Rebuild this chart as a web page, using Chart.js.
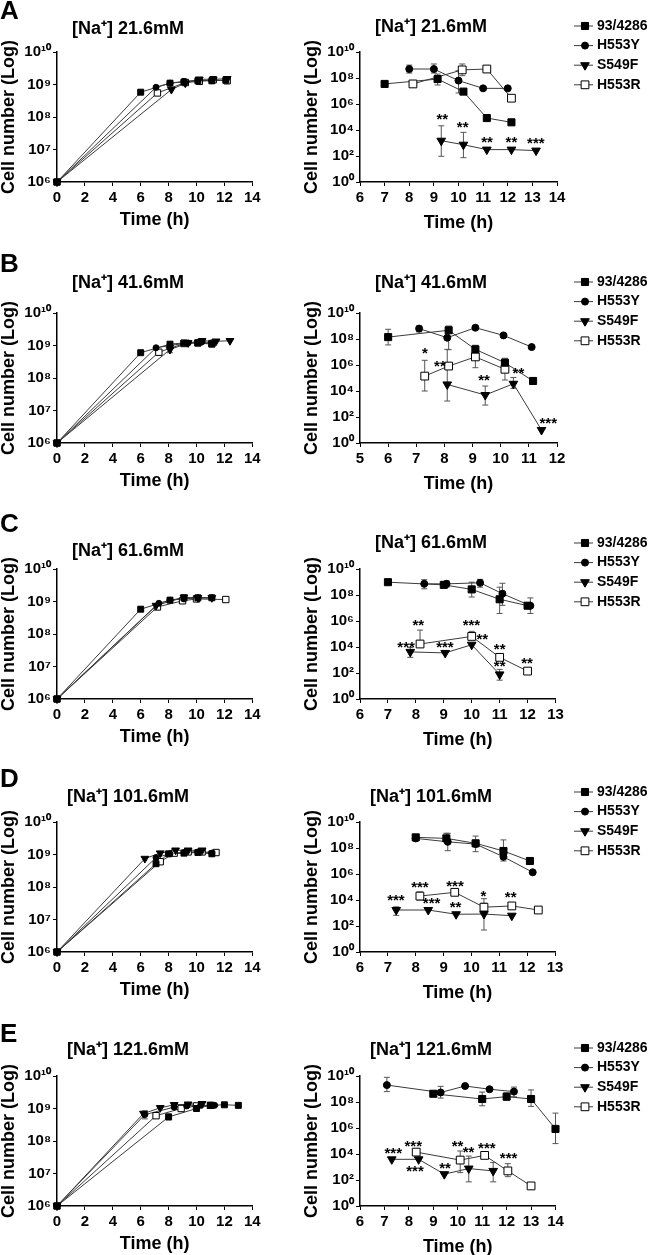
<!DOCTYPE html>
<html><head><meta charset="utf-8">
<script src="https://cdn.jsdelivr.net/npm/chart.js@4.4.1/dist/chart.umd.min.js"></script>
<style>
html,body{margin:0;padding:0;background:#fff;width:650px;height:1255px;overflow:hidden;position:relative;}
canvas{position:absolute;}
</style></head><body>
<script>
// ================= DATA =================
const SERIES_NAMES = ['93/4286', 'H553Y', 'S549F', 'H553R'];
const PANEL_LETTERS = ['A', 'B', 'C', 'D', 'E'];
const NA_TITLES = ['[Na⁺] 21.6mM', '[Na⁺] 41.6mM', '[Na⁺] 61.6mM', '[Na⁺] 101.6mM', '[Na⁺] 121.6mM'];
const X_TITLE = 'Time (h)';
const Y_TITLE = 'Cell number (Log)';
const GROWTH_X_RANGE = [0, 14];
const GROWTH_X_STEP = 2;
const SURV_X_RANGES = [[6, 14], [5, 12], [6, 13], [6, 13], [6, 14]];
const SURV_X_STEP = 1;
const GROWTH_Y_TICKS = [1e6, 1e7, 1e8, 1e9, 1e10];
const GROWTH_Y_LABELS = ['10⁶', '10⁷', '10⁸', '10⁹', '10¹⁰'];
const SURV_Y_TICKS = [1, 1e2, 1e4, 1e6, 1e8, 1e10];
const SURV_Y_LABELS = ['10⁰', '10²', '10⁴', '10⁶', '10⁸', '10¹⁰'];

// ---- growth curves (left column): [time h, cells] ----
const growthA_WT    = [[0,1e6],[6,5.8e8],[8.1,1.1e9],[9.1,1.2e9],[10.1,1.3e9],[11.1,1.3e9],[12.1,1.35e9]];
const growthA_H553Y = [[0,1e6],[7.1,8.2e8],[8.1,1.1e9],[9.1,1.25e9],[10.1,1.35e9],[11.1,1.3e9]];
const growthA_S549F = [[0,1e6],[8.2,7e8],[9.2,1.1e9],[10.2,1.45e9],[11.2,1.45e9],[12.2,1.5e9]];
const growthA_H553R = [[0,1e6],[7.2,5.5e8],[9.2,1.15e9],[10.2,1.25e9],[11.2,1.4e9],[12.2,1.3e9]];

const growthB_WT    = [[0,1e6],[6,6e8],[8.1,1.1e9],[9.1,1.2e9],[10.1,1.2e9],[11.1,1.1e9]];
const growthB_H553Y = [[0,1e6],[7.1,8.5e8],[8.1,1.0e9],[9.4,1.2e9],[10.4,1.3e9],[11.1,1.2e9]];
const growthB_S549F = [[0,1e6],[8.1,7.5e8],[9.4,1.2e9],[10.4,1.4e9],[11.4,1.35e9],[12.4,1.4e9]];
const growthB_H553R = [[0,1e6],[7.3,6.2e8],[9.1,1.15e9],[10.1,1.2e9],[11.1,1.15e9]];

const growthC_WT    = [[0,1e6],[6,5.8e8],[8.1,1.1e9],[9.1,1.3e9],[10.1,1.3e9],[11.1,1.3e9]];
const growthC_H553Y = [[0,1e6],[7.3,8.8e8],[8.1,1.1e9],[9.1,1.2e9],[10.1,1.3e9],[11.1,1.3e9]];
const growthC_S549F = [[0,1e6],[7.1,7.5e8],[9.1,1.35e9],[10.1,1.3e9],[11.1,1.3e9]];
const growthC_H553R = [[0,1e6],[7.2,6.8e8],[9,1.05e9],[10,1.2e9],[12.1,1.15e9]];

const growthD_WT    = [[0,1e6],[7.1,5.2e8],[8,1.05e9],[9.1,1.1e9],[10.1,1.15e9],[11.1,1.05e9]];
const growthD_H553Y = [[0,1e6],[7.1,8e8],[8.1,1.05e9],[9.1,1.15e9],[10.1,1.2e9],[11.1,1.1e9]];
const growthD_S549F = [[0,1e6],[6.3,7.5e8],[7.4,1.1e9],[8.5,1.35e9],[9.4,1.35e9],[10.4,1.35e9]];
const growthD_H553R = [[0,1e6],[7.4,6e8],[8.4,1.1e9],[9.4,1.2e9],[10.4,1.2e9],[11.4,1.15e9]];

const growthE_WT    = [[0,1e6],[8,5.5e8],[10,1.0e9],[11,1.25e9],[12,1.3e9],[13,1.25e9]];
const growthE_H553Y = [[0,1e6],[6.3,6.5e8],[8.4,1.1e9],[9.3,1.2e9],[10.3,1.25e9],[11.3,1.25e9]];
const growthE_S549F = [[0,1e6],[6.2,7e8],[7.4,1.05e9],[8.4,1.3e9],[9.4,1.35e9],[10.4,1.4e9]];
const growthE_H553R = [[0,1e6],[7.1,6e8],[8.9,1.0e9],[10,1.2e9],[11,1.25e9]];

// growth error bars: [time, low, high]
const growthErrE_WT    = [[8,4.5e8,6.8e8]];
const growthErrE_H553Y = [[6.3,4.8e8,8.5e8]];
const growthErrB_S549F = [[8.1,6e8,9e8]];

// ---- survival curves (right column): [time h, cells] ----
const survA_WT    = [[7.0,3.5e7],[9.15,8.3e7],[10.2,9e6],[11.15,8.3e4],[12.15,3.9e4]];
const survA_H553Y = [[8.0,4.9e8],[9.0,4.9e8],[10.0,6.3e7],[11.0,1.6e7],[12.0,1.6e7]];
const survA_S549F = [[9.3,1.5e3],[10.2,7.4e2],[11.15,3.1e2],[12.15,3.1e2],[13.15,2.6e2]];
const survA_H553R = [[8.15,3.5e7],[10.15,4.2e8],[11.15,4.9e8],[12.15,2.8e6]];
const errA_WT    = [[9.15,2.9e7,2e8]];
const errA_H553Y = [[8.0,2.4e8,9.8e8],[9.0,2.4e8,1.2e9],[10.0,7e6,3.6e8]];
const errA_S549F = [[9.3,95,2.1e4],[10.2,74,6.6e3]];
const errA_H553R = [[10.15,1.5e8,1.2e9]];
const starsA = [[9.34,1e5,'**'],[10.17,2.4e4,'**'],[11.16,1.8e3,'**'],[12.15,1.8e3,'**'],[13.14,1.5e3,'***']];

const survB_WT    = [[6.0,1.4e8],[8.15,4.7e8],[9.1,1.6e7],[10.15,1.5e6],[11.15,5.9e4]];
const survB_H553Y = [[7.1,6.3e8],[8.1,1.26e8],[9.1,7.4e8],[10.1,1.9e8],[11.1,2.4e7]];
const survB_S549F = [[8.1,3.2e4],[9.45,4.9e3],[10.45,3.6e4],[11.45,10]];
const survB_H553R = [[7.3,1.4e5],[8.15,8.3e5],[9.1,4.2e6],[10.15,4.7e5]];
const errB_WT    = [[6.0,3.5e7,5.6e8],[8.15,1.5e7,1e9],[9.1,9e6,3.3e7],[10.15,6.2e5,3.3e6]];
const errB_H553Y = [[7.1,3.5e8,1e9]];
const errB_S549F = [[8.1,1.7e3,1.6e7],[9.45,8.3e2,2.4e4],[10.45,1.6e4,1.1e5]];
const errB_H553R = [[7.3,1e4,2.3e6],[9.1,6.2e5,1.2e7],[10.15,7e4,2.8e6]];
const starsB = [[7.31,1.2e7,'*'],[7.84,1.3e6,'**'],[9.41,9.5e4,'**'],[10.63,3.5e5,'**'],[11.69,49,'***']];

const survC_WT    = [[7.0,9.7e8],[9.0,6e8],[10.0,2.7e8],[11.0,4.7e7],[12.0,1.5e7]];
const survC_H553Y = [[8.3,7.2e8],[9.1,7.2e8],[10.3,8.7e8],[11.1,1.26e8],[12.1,1.5e7]];
const survC_S549F = [[7.8,4.2e3],[9.05,3.5e3],[10.0,1.5e4],[11.0,78]];
const survC_H553R = [[8.15,1.7e4],[10.0,6.5e4],[11.0,1.6e3],[12.0,1.4e2]];
const errC_WT    = [[10.0,7e7,9.7e8],[11.0,3.8e6,4e8]];
const errC_H553Y = [[8.3,3e8,1.5e9],[9.1,4e8,1.2e9],[10.3,4e8,1.6e9],[11.1,1.6e7,8e8],[12.1,3.8e6,6e7]];
const errC_S549F = [[7.8,1.6e3,9.3e3],[11.0,28,190]];
const errC_H553R = [[8.15,1.7e4,2e5],[10.0,6.5e4,1.6e5],[11.0,1.6e3,3e3]];
const starsC = [[8.09,6.6e5,'**'],[7.65,1.5e4,'***'],[9.04,1.5e4,'***'],[9.99,6.6e5,'***'],[10.38,6.5e4,'**'],[11.0,1e4,'**'],[11.0,5.4e2,'**'],[11.98,8.1e2,'**']];

const survD_WT    = [[8.0,6.6e8],[9.1,5.5e8],[10.15,2.3e8],[11.15,5.9e7],[12.1,1e7]];
const survD_H553Y = [[8.0,5.5e8],[9.15,3e8],[10.15,2e8],[11.15,2.1e7],[12.2,1.35e6]];
const survD_S549F = [[7.3,1.7e3],[8.45,1.7e3],[9.45,8e2],[10.45,8.3e2],[11.45,6.2e2]];
const survD_H553R = [[8.15,2e4],[9.4,3.9e4],[10.45,2.8e3],[11.45,3.5e3],[12.4,1.7e3]];
const errD_WT    = [[9.1,5.5e8,1.35e9],[10.15,5.2e7,8.3e8],[11.15,5.9e7,4.2e8],[12.1,5.5e6,1.8e7]];
const errD_H553Y = [[9.15,6.2e7,1.35e9],[11.15,1e7,4e7]];
const errD_S549F = [[7.3,6.6e2,3e3],[10.45,49,5.6e3]];
const errD_H553R = [[8.15,1e4,4.2e4],[10.45,2.8e3,1.26e4]];
const starsD = [[7.29,1.35e4,'***'],[8.15,1.4e5,'***'],[8.57,8.9e3,'***'],[9.41,1.6e5,'***'],[9.43,4.2e3,'**'],[10.43,2.9e4,'*'],[11.41,2.4e4,'**']];

const survE_WT    = [[9.0,4.3e8],[11.0,1.7e8],[12.0,2.6e8],[13.0,1.7e8],[14.0,8.5e5]];
const survE_H553Y = [[7.1,2e9],[9.3,5.4e8],[10.3,1.7e9],[11.3,9.6e8],[12.3,6.3e8]];
const survE_S549F = [[7.3,3.9e3],[8.4,3.9e3],[9.45,2.8e2],[10.45,7.6e2],[11.45,5e2]];
const survE_H553R = [[8.3,1.4e4],[10.1,3.4e3],[11.1,7.8e3],[12.05,5e2],[13.0,35]];
const errE_WT    = [[11.0,5.1e7,5.8e8],[12.0,1.3e8,5e8],[13.0,4.6e7,8.5e8],[14.0,6.3e4,1.4e7]];
const errE_H553Y = [[7.1,6.3e8,7.9e9],[9.3,2e8,1.6e9],[12.3,2.5e8,1.4e9]];
const errE_S549F = [[10.45,72,6.9e3],[11.45,72,2.2e3]];
const errE_H553R = [[10.1,3.7e2,1.7e4],[12.05,1.8e2,1.8e3]];
const starsE = [[7.36,1.7e4,'***'],[8.18,6.5e4,'***'],[8.25,7.6e2,'***'],[9.48,1.2e3,'**'],[9.99,6.5e4,'**'],[10.44,2.2e4,'**'],[11.19,4.6e4,'***'],[12.08,6.9e3,'***']];

// ================= LAYOUT / STYLE =================
const FONT = "'Liberation Sans', Arial, Helvetica, sans-serif";
Chart.defaults.font.family = FONT;
Chart.defaults.color = '#000';
const LINE_COLOR = '#3a3a3a';
const ERR_COLOR = '#555';
const CAP = 3;
const ROW_TOP = [52, 313, 569, 822, 1076];
const LETTER_Y = [12, 265, 525, 780, 1035];
const LEFT_TITLE_Y = [29, 283, 551, 797, 1050];
const RIGHT_TITLE_Y = [27, 283, 543, 797, 1050];
const LEGEND_Y0 = [26, 282, 543, 792, 1048];
const RIGHT_CHART_RIGHT = [557, 557, 555.5, 555, 555.5];
const LEGEND_STEP = 19.6;
const MARKERS = [
  {style: 'rect', fill: '#000'},
  {style: 'circle', fill: '#000'},
  {style: 'tri', fill: '#000'},
  {style: 'rect', fill: '#fff'}
];
const LEFT_RADII = [4.2, 3, 4.5, 4.5];
const RIGHT_RADII = [5, 3.5, 5, 5.5];

function drawMarker(ctx, m, r, x, y) {
  ctx.save();
  ctx.fillStyle = m.fill; ctx.strokeStyle = '#000'; ctx.lineWidth = 1;
  ctx.beginPath();
  if (m.style === 'rect') { const h = r * Math.SQRT1_2; ctx.rect(x - h, y - h, 2 * h, 2 * h); }
  else if (m.style === 'circle') { ctx.arc(x, y, r, 0, Math.PI * 2); }
  else { ctx.moveTo(x, y + r); ctx.lineTo(x - r * 0.866, y - r / 2); ctx.lineTo(x + r * 0.866, y - r / 2); ctx.closePath(); }
  ctx.fill(); ctx.stroke();
  ctx.restore();
}

function decor(cfg) {
  return {
    id: 'decor',
    beforeDatasetsDraw(chart) {
      const ctx = chart.ctx, xs = chart.scales.x, ys = chart.scales.y;
      ctx.save(); ctx.strokeStyle = ERR_COLOR; ctx.lineWidth = 1;
      cfg.errors.forEach(list => list.forEach(([x, lo, hi]) => {
        const px = xs.getPixelForValue(x), a = ys.getPixelForValue(lo), b = ys.getPixelForValue(hi);
        ctx.beginPath();
        ctx.moveTo(px, a); ctx.lineTo(px, b);
        ctx.moveTo(px - CAP, a); ctx.lineTo(px + CAP, a);
        ctx.moveTo(px - CAP, b); ctx.lineTo(px + CAP, b);
        ctx.stroke();
      }));
      ctx.restore();
    },
    afterDraw(chart) {
      const ctx = chart.ctx, xs = chart.scales.x, ys = chart.scales.y;
      ctx.save();
      ctx.fillStyle = '#000';
      ctx.textBaseline = 'middle';
      ctx.font = 'bold 18px ' + FONT; ctx.textAlign = 'center';
      ctx.fillText(cfg.title, cfg.titleX, cfg.titleY);
      if (cfg.letter) {
        ctx.font = 'bold 26px ' + FONT; ctx.textAlign = 'left';
        ctx.fillText(cfg.letter, 0, cfg.letterY);
      }
      if (cfg.legendY != null) {
        ctx.font = 'bold 14px ' + FONT; ctx.textAlign = 'left';
        SERIES_NAMES.forEach((name, i) => {
          const y = cfg.legendY + i * LEGEND_STEP;
          ctx.strokeStyle = LINE_COLOR; ctx.lineWidth = 1;
          ctx.beginPath(); ctx.moveTo(271, y); ctx.lineTo(290, y); ctx.stroke();
          drawMarker(ctx, MARKERS[i], RIGHT_RADII[i], 282, y);
          ctx.fillStyle = '#000';
          ctx.fillText(name, 294, y);
        });
      }
      ctx.font = 'bold 15px ' + FONT; ctx.textAlign = 'center'; ctx.fillStyle = '#000';
      cfg.stars.forEach(([x, v, t]) => ctx.fillText(t, xs.getPixelForValue(x), ys.getPixelForValue(v) + 3));
      ctx.restore();
    },
    afterDatasetsDraw(chart) {
      const ctx = chart.ctx, xs = chart.scales.x, ys = chart.scales.y;
      for (let i = cfg.series.length - 1; i >= 0; i--) {
        cfg.series[i].forEach(([x, v]) => drawMarker(ctx, MARKERS[i], cfg.radii[i], xs.getPixelForValue(x), ys.getPixelForValue(v)));
      }
    }
  };
}

function makeCanvas(left, top, w, h) {
  const c = document.createElement('canvas');
  c.width = w; c.height = h;
  c.style.left = left + 'px'; c.style.top = top + 'px';
  c.style.width = w + 'px'; c.style.height = h + 'px';
  document.body.appendChild(c);
  return c;
}

const gridOpts = {display: true, drawOnChartArea: false, drawTicks: true, tickLength: 4, color: '#000', tickColor: '#000', tickWidth: 1};
const borderOpts = {display: true, color: '#000', width: 1.5};
const titleFont = {size: 18, weight: 'bold', lineHeight: 1};
const tickFont = {size: 15, weight: 'bold'};

function buildChart(canvas, o) {
  return new Chart(canvas, {
    type: 'scatter',
    data: {
      datasets: o.series.map((pts, i) => ({
        label: SERIES_NAMES[i],
        data: pts.map(([x, y]) => ({x, y})),
        showLine: true, borderColor: LINE_COLOR, borderWidth: 1,
        pointRadius: 0, pointHoverRadius: 0,
        clip: false, tension: 0
      }))
    },
    options: {
      responsive: false, animation: false, devicePixelRatio: 1, events: [],
      layout: {padding: {left: 0, top: 62, right: o.padRight, bottom: o.padBottom}},
      plugins: {legend: {display: false}, tooltip: {enabled: false}, title: {display: false}},
      scales: {
        x: {
          type: 'linear', min: o.xMin, max: o.xMax,
          afterFit: s => { s.height = o.xAxisH; },
          ticks: {stepSize: o.xStep, autoSkip: false, maxRotation: 0, minRotation: 0, font: tickFont, padding: 3, color: '#000'},
          grid: gridOpts, border: borderOpts,
          title: {display: true, text: X_TITLE, font: titleFont, padding: 0, color: '#000'}
        },
        y: {
          type: 'logarithmic', min: o.yTicks[0], max: o.yTicks[o.yTicks.length - 1],
          afterFit: s => { s.width = 57; },
          afterBuildTicks: s => { s.ticks = o.yTicks.map(v => ({value: v})); },
          ticks: {autoSkip: false, callback: (v, i) => o.yLabels[i], font: tickFont, padding: 2, color: '#000'},
          grid: gridOpts, border: borderOpts,
          title: {display: true, text: Y_TITLE, font: titleFont, padding: {top: 0, bottom: 0}, color: '#000'}
        }
      }
    },
    plugins: [decor(o)]
  });
}

const GROWTH = [
  [growthA_WT, growthA_H553Y, growthA_S549F, growthA_H553R],
  [growthB_WT, growthB_H553Y, growthB_S549F, growthB_H553R],
  [growthC_WT, growthC_H553Y, growthC_S549F, growthC_H553R],
  [growthD_WT, growthD_H553Y, growthD_S549F, growthD_H553R],
  [growthE_WT, growthE_H553Y, growthE_S549F, growthE_H553R]
];
const GROWTH_ERR = [[], [growthErrB_S549F], [], [], [growthErrE_WT, growthErrE_H553Y]];
const SURV = [
  [survA_WT, survA_H553Y, survA_S549F, survA_H553R],
  [survB_WT, survB_H553Y, survB_S549F, survB_H553R],
  [survC_WT, survC_H553Y, survC_S549F, survC_H553R],
  [survD_WT, survD_H553Y, survD_S549F, survD_H553R],
  [survE_WT, survE_H553Y, survE_S549F, survE_H553R]
];
const SURV_ERR = [
  [errA_WT, errA_H553Y, errA_S549F, errA_H553R],
  [errB_WT, errB_H553Y, errB_S549F, errB_H553R],
  [errC_WT, errC_H553Y, errC_S549F, errC_H553R],
  [errD_WT, errD_H553Y, errD_S549F, errD_H553R],
  [errE_WT, errE_H553Y, errE_S549F, errE_H553R]
];
const STARS = [starsA, starsB, starsC, starsD, starsE];

const CANVAS_H = 262;
const LEFT_XAXIS_H = 47, RIGHT_XAXIS_H = 50;
for (let r = 0; r < 5; r++) {
  const cTop = ROW_TOP[r] - 62;
  const lw = 280;
  buildChart(makeCanvas(0, cTop, lw, CANVAS_H), {
    series: GROWTH[r], errors: GROWTH_ERR[r], stars: [], radii: LEFT_RADII,
    xMin: GROWTH_X_RANGE[0], xMax: GROWTH_X_RANGE[1], xStep: GROWTH_X_STEP,
    yTicks: GROWTH_Y_TICKS, yLabels: GROWTH_Y_LABELS,
    padRight: lw - 252.3, xAxisH: LEFT_XAXIS_H, padBottom: CANVAS_H - 192 - LEFT_XAXIS_H,
    title: NA_TITLES[r], titleX: 128, titleY: LEFT_TITLE_Y[r] - cTop,
    letter: PANEL_LETTERS[r], letterY: LETTER_Y[r] - cTop, legendY: null
  });
  const rl = 303, rw = 347;
  buildChart(makeCanvas(rl, cTop, rw, CANVAS_H), {
    series: SURV[r], errors: SURV_ERR[r], stars: STARS[r], radii: RIGHT_RADII,
    xMin: SURV_X_RANGES[r][0], xMax: SURV_X_RANGES[r][1], xStep: SURV_X_STEP,
    yTicks: SURV_Y_TICKS, yLabels: SURV_Y_LABELS,
    padRight: 650 - RIGHT_CHART_RIGHT[r], xAxisH: RIGHT_XAXIS_H, padBottom: CANVAS_H - 192 - RIGHT_XAXIS_H,
    title: NA_TITLES[r], titleX: 431 - rl, titleY: RIGHT_TITLE_Y[r] - cTop,
    letter: null, letterY: 0, legendY: LEGEND_Y0[r] - cTop
  });
}
</script>
</body></html>
